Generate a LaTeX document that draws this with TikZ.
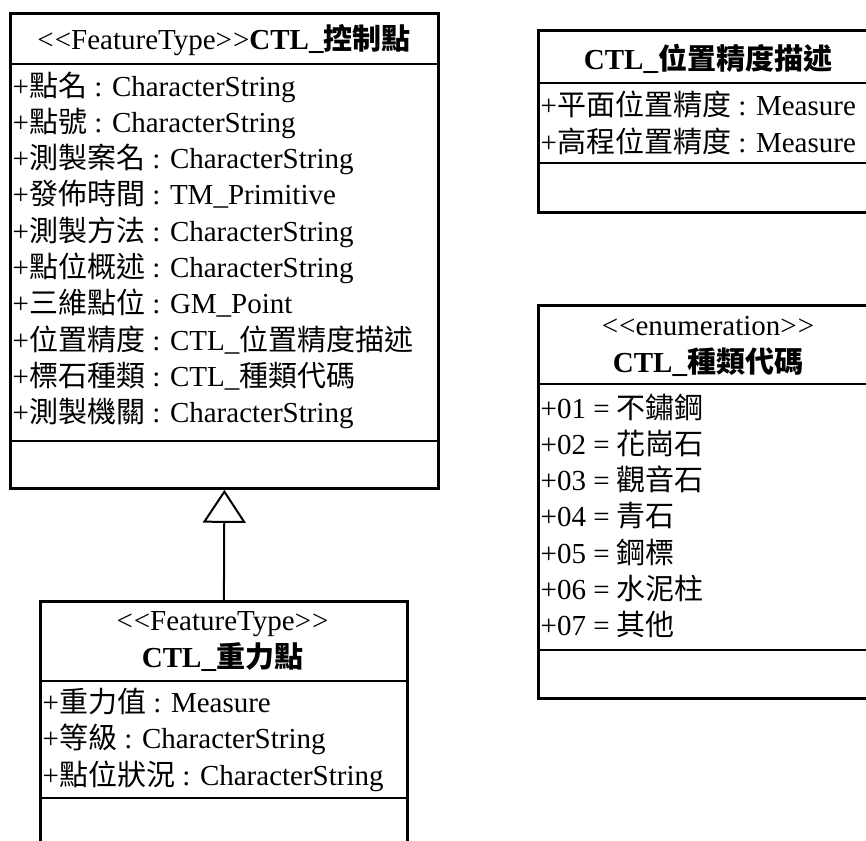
\documentclass[tikz,border=0pt]{standalone}
\usepackage{fontspec}
\setmainfont{Liberation Serif}[Ligatures=TeXOff]
\newfontfamily\cjk{Noto Sans CJK TC}
\usetikzlibrary{arrows.meta}
\newcommand\zh[1]{{\cjk #1}}
\tikzset{
  umlbox/.style={draw, line width=2.8pt, inner sep=0pt, anchor=north west, rectangle},
  sepline/.style={line width=2.8pt},
  attr/.style={anchor=base west, inner sep=0pt, font=\fontsize{29}{36}\selectfont},
  ttl/.style={anchor=base, inner sep=0pt, font=\fontsize{29}{36}\selectfont},
  genline/.style={line width=2pt, -{Triangle[open, width=43pt, length=33pt, line width=2pt]}}
}
\begin{document}
\begin{tikzpicture}[x=1pt, y=-1pt]
\useasboundingbox (0,0) rectangle (866,840);
\clip (0,0) rectangle (866,840);
\fill[white] (0,0) rectangle (866,840);

% Box 1: CTL_控制點
\node[umlbox, minimum width=428pt, minimum height=475pt] (ctl) at (9,12) {};
\draw[sepline] (9,64) -- (437,64);
\draw[sepline] (9,441) -- (437,441);
\node[ttl] (ctlT) at (224,50) {<\kern1pt<FeatureType>\kern1pt>\textbf{CTL\_\zh{控制點}}};
\foreach \t [count=\i from 0] in {
  {+\zh{點名} : CharacterString},
  {+\zh{點號} : CharacterString},
  {+\zh{測製案名} : CharacterString},
  {+\zh{發佈時間} : TM\_Primitive},
  {+\zh{測製方法} : CharacterString},
  {+\zh{點位概述} : CharacterString},
  {+\zh{三維點位} : GM\_Point},
  {+\zh{位置精度} : CTL\_\zh{位置精度描述}},
  {+\zh{標石種類} : CTL\_\zh{種類代碼}},
  {+\zh{測製機關} : CharacterString}}
  \node[attr] (ctlA\i) at (12.5, 96+36.3*\i) {\t};

% Box 2: CTL_重力點
\node[umlbox, minimum width=367pt, minimum height=280pt] (grav) at (39,600) {};
\draw[sepline] (39,681) -- (406,681);
\draw[sepline] (39,798) -- (406,798);
\node[ttl] (gravS) at (222.5,630) {<\kern1pt<FeatureType>\kern1pt>};
\node[ttl] (gravT) at (222.5,667) {\textbf{CTL\_\zh{重力點}}};
\foreach \t [count=\i from 0] in {
  {+\zh{重力值} : Measure},
  {+\zh{等級} : CharacterString},
  {+\zh{點位狀況} : CharacterString}}
  \node[attr] (gravA\i) at (42.5, 712+36.5*\i) {\t};

% Generalization
\draw[genline] (grav.north) -- (ctl.south);

% Box 3: CTL_位置精度描述
\node[umlbox, minimum width=342pt, minimum height=182pt] (acc) at (537,29) {};
\draw[sepline] (537,83) -- (879,83);
\draw[sepline] (537,163) -- (879,163);
\node[ttl] (accT) at (708,70) {\textbf{CTL\_\zh{位置精度描述}}};
\node[attr] (accA0) at (540.5,115) {+\zh{平面位置精度} : Measure};
\node[attr] (accA1) at (540.5,152) {+\zh{高程位置精度} : Measure};

% Box 4: CTL_種類代碼
\node[umlbox, minimum width=342pt, minimum height=393pt] (kind) at (537,304) {};
\draw[sepline] (537,384) -- (879,384);
\draw[sepline] (537,650) -- (879,650);
\node[ttl] (kindS) at (708,335) {<\kern1pt<enumeration>\kern1pt>};
\node[ttl] (kindT) at (708,372) {\textbf{CTL\_\zh{種類代碼}}};
\foreach \t [count=\i from 0] in {
  {+01 = \zh{不鏽鋼}},
  {+02 = \zh{花崗石}},
  {+03 = \zh{觀音石}},
  {+04 = \zh{青石}},
  {+05 = \zh{鋼標}},
  {+06 = \zh{水泥柱}},
  {+07 = \zh{其他}}}
  \node[attr] (kindA\i) at (540.5, 418+36.3*\i) {\t};
\end{tikzpicture}
\end{document}
